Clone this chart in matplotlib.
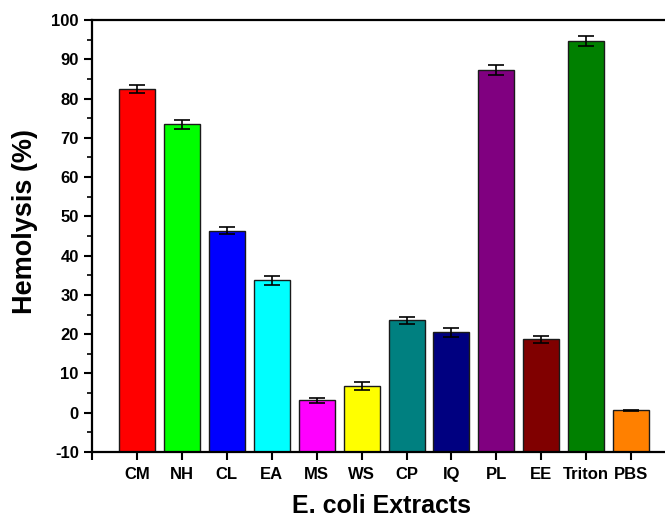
import matplotlib
matplotlib.use("Agg")
import matplotlib.pyplot as plt
import numpy as np

categories = ["CM", "NH", "CL", "EA", "MS", "WS", "CP", "IQ", "PL", "EE", "Triton", "PBS"]
values = [82.5, 73.4, 46.4, 33.7, 3.2, 6.7, 23.5, 20.5, 87.2, 18.7, 94.7, 0.6]
errors = [1.0, 1.1, 1.0, 1.2, 0.6, 1.0, 1.0, 1.2, 1.3, 0.9, 1.3, 0.1]
colors = ["#FF0000", "#00FF00", "#0000FF", "#00FFFF", "#FF00FF", "#FFFF00",
          "#008080", "#000080", "#800080", "#800000", "#008000", "#FF8000"]

plt.rcParams['font.family'] = ['Liberation Sans', 'DejaVu Sans']
plt.rcParams['font.weight'] = 'bold'
plt.rcParams['axes.unicode_minus'] = False

fig = plt.figure(figsize=(6.65, 5.17), dpi=100)
ax = fig.add_axes([92/665, 1 - 452/517, (665 - 92)/665 + 0.01, (452 - 20)/517])

x = np.arange(1, len(categories) + 1)
ymin = -10
heights = [v - ymin for v in values]
ax.bar(x, heights, width=0.8, bottom=ymin, color=colors, edgecolor="#1a1a1a",
       linewidth=1.0, zorder=2)
ax.errorbar(x, values, yerr=errors, fmt="none", ecolor="black", elinewidth=1.2,
            capsize=6, capthick=1.2, zorder=3)

ax.set_xlim(0, 12.9)
ax.set_ylim(ymin, 100)
ax.set_yticks(np.arange(-10, 101, 10))
ax.set_yticks(np.arange(-5, 100, 5), minor=True)
ax.set_xticks(np.arange(0, 13))
ax.set_xticklabels([""] + categories)
ax.tick_params(axis='both', which='major', direction='out', length=6, width=1.5,
               labelsize=12)
ax.tick_params(axis='x', which='major', pad=5)
ax.tick_params(axis='y', which='minor', direction='out', length=3.5, width=1.2)
for lbl in ax.get_xticklabels() + ax.get_yticklabels():
    lbl.set_fontweight('bold')

for s in ["left", "bottom", "top"]:
    ax.spines[s].set_linewidth(1.6)
ax.spines["right"].set_visible(False)

ax.set_ylabel("Hemolysis (%)", fontsize=19.5, fontweight='bold')
ax.yaxis.set_label_coords(-(92 - 39) / 573, (452 - 222) / 432)
ax.set_xlabel("E. coli Extracts", fontsize=18, fontweight='bold', labelpad=8.5)

fig.savefig("out.png", dpi=100)
